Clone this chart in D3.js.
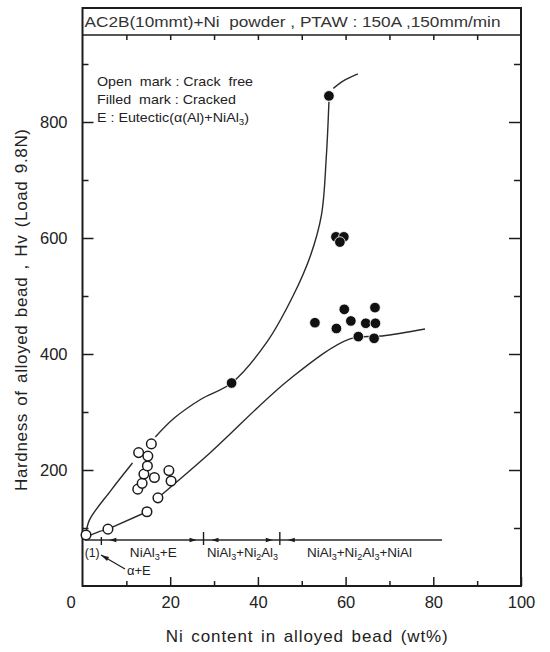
<!DOCTYPE html>
<html><head><meta charset="utf-8">
<script src="https://cdn.jsdelivr.net/npm/d3@7"></script>
<style>
body{margin:0;background:#fff}
svg{display:block;font-family:"Liberation Sans",Arial,Helvetica,sans-serif}
</style>
</head><body><svg id="c" width="550" height="652"></svg>
<script>
// ---------- data ----------
const titleText = "AC2B(10mmt)+Ni  powder , PTAW : 150A ,150mm/min";
const xLabel = "Ni content in alloyed bead (wt%)";
const yLabel = "Hardness of alloyed bead , Hv (Load 9.8N)";
const xTickLabels = [20, 40, 60, 80, 100];
const yTickLabels = [200, 400, 600, 800];
const xMinorTicks = [10, 30, 50, 70, 90];
const yMinorTicks = [100, 300, 500, 700, 900];

// open marks : crack free
const openNi = [0.8, 5.8, 14.7, 12.6, 13.6, 14.0, 14.8, 14.9, 12.8, 15.7, 16.4, 17.2, 19.7, 20.2];
const openHv = [88, 98, 128, 167, 177, 193, 207, 224, 230, 245, 187, 152, 199, 181];
// filled marks : cracked
const filledNi = [34.0, 56.2, 57.8, 59.6, 58.7, 53.0, 59.7, 66.7, 61.2, 57.9, 64.6, 66.8, 62.9, 66.5];
const filledHv = [350, 845, 602, 602, 593, 454, 477, 480, 457, 444, 453, 453, 430, 427];

// hand-drawn trend curves (segments)
const upperCurveA = [[0.8, 90], [1.6, 114], [6.5, 165], [11.4, 212]];
const upperCurveB = [[16.6, 257], [21, 290], [27, 322], [34, 350], [42, 420], [48, 500], [52, 570], [54.5, 640], [55.6, 740], [56.2, 835]];
const upperCurveC = [[57.2, 858], [59.5, 871], [62.8, 883]];
const lowerCurveA = [[1.5, 87], [3.5, 93], [5.8, 98]];
const lowerCurveB = [[5.8, 98], [14.7, 128]];
const lowerCurveC = [[17.2, 152], [29, 229], [47.3, 357], [61, 426], [68.3, 431], [78.1, 443]];

// phase regions
const phaseBounds = [4.3, 27.6, 45];
const phaseLineEnd = 82;
const phaseNames = ["(1)", "NiAl|3|+E", "NiAl|3|+Ni|2|Al|3", "NiAl|3|+Ni|2|Al|3|+NiAl"];
const phaseNameNi = [0.5, 10.8, 28.4, 51.2];
const subPhaseName = "α+E";

const legendLines = ["Open  mark : Crack  free", "Filled  mark : Cracked", "E : Eutectic(α(Al)+NiAl|3|)"];

// ---------- layout ----------
const svg = d3.select("#c");
const L = 82.5, R = 521, T = 35, B = 586, TT = 8;
const x = d3.scaleLinear().domain([0, 100]).range([L, R]);
const y = d3.scaleLinear().domain([0, 950]).range([B, T]);
const ink = "#1c1c1c";

// frame
svg.append("rect").attr("x", L).attr("y", TT).attr("width", R - L).attr("height", B - TT)
  .attr("fill", "none").attr("stroke", ink).attr("stroke-width", 2);
svg.append("line").attr("x1", L).attr("x2", R).attr("y1", T).attr("y2", T)
  .attr("stroke", ink).attr("stroke-width", 1.6);

// title
svg.append("text").attr("x", L + 2).attr("y", 27).attr("fill", "#333")
  .attr("font-size", 15.5).attr("xml:space", "preserve")
  .attr("textLength", 416).attr("lengthAdjust", "spacingAndGlyphs")
  .style("white-space", "pre").text(titleText);

function styleAxis(g) {
  g.select(".domain").remove();
  g.selectAll(".tick line").attr("stroke", ink).attr("stroke-width", 1.5);
  g.selectAll(".tick text").attr("fill", "#222").attr("font-size", 16.5)
    .attr("font-family", "\"Liberation Sans\",Arial,sans-serif");
}

// bottom axis
svg.append("g").attr("transform", `translate(0,${B})`)
  .call(d3.axisBottom(x).tickValues(xTickLabels).tickSize(-9).tickPadding(10))
  .call(styleAxis);
svg.append("g").attr("transform", `translate(0,${B})`)
  .call(d3.axisBottom(x).tickValues(xMinorTicks).tickSize(-5).tickFormat(""))
  .call(styleAxis);
svg.append("text").attr("x", 71).attr("y", 608).attr("text-anchor", "middle")
  .attr("fill", "#222").attr("font-size", 16.5).text("0");
// top ticks
svg.append("g").attr("transform", `translate(0,${T})`)
  .call(d3.axisTop(x).tickValues(d3.merge([xTickLabels, xMinorTicks]).filter(v => v < 100)).tickSize(-5).tickFormat(""))
  .call(styleAxis);

// left axis
svg.append("g").attr("transform", `translate(${L},0)`)
  .call(d3.axisLeft(y).tickValues(yTickLabels).tickSize(-11).tickPadding(15))
  .call(styleAxis);
svg.append("g").attr("transform", `translate(${L},0)`)
  .call(d3.axisLeft(y).tickValues(yMinorTicks).tickSize(-6).tickFormat(""))
  .call(styleAxis);
// right axis
svg.append("g").attr("transform", `translate(${R},0)`)
  .call(d3.axisRight(y).tickValues(yTickLabels).tickSize(-12).tickFormat(""))
  .call(styleAxis);
svg.append("g").attr("transform", `translate(${R},0)`)
  .call(d3.axisRight(y).tickValues(yMinorTicks).tickSize(-7).tickFormat(""))
  .call(styleAxis);

// axis titles
svg.append("text").attr("x", (L + R) / 2 + 5).attr("y", 642).attr("text-anchor", "middle")
  .attr("fill", "#222").attr("font-size", 17).attr("word-spacing", 2)
  .attr("textLength", 282).attr("lengthAdjust", "spacing").text(xLabel);
svg.append("text").attr("transform", "translate(27,310) rotate(-90)").attr("text-anchor", "middle")
  .attr("fill", "#222").attr("font-size", 17).attr("word-spacing", 2)
  .attr("textLength", 362).attr("lengthAdjust", "spacing").text(yLabel);

// rich text helper: segments separated by "|" alternate normal/subscript
function rich(sel, str, size) {
  const parts = str.split("|");
  parts.forEach((p, i) => {
    if (!p) return;
    const sub = i % 2 === 1;
    sel.append("tspan").attr("font-size", sub ? size * 0.68 : size)
      .attr("dy", sub ? size * 0.2 : (i > 0 ? -size * 0.2 : 0))
      .text(p);
  });
}

// legend
const legendWidths = [156, 139, 152];
legendLines.forEach((t, i) => {
  const tx = svg.append("text").attr("x", 97).attr("y", 86 + i * 18).attr("fill", "#222")
    .attr("xml:space", "preserve").style("white-space", "pre")
    .attr("textLength", legendWidths[i]).attr("lengthAdjust", "spacingAndGlyphs");
  rich(tx, t, 13.5);
});

// curves
const line = d3.line().x(d => x(d[0])).y(d => y(d[1])).curve(d3.curveCatmullRom.alpha(0.5));
[upperCurveA, upperCurveB, upperCurveC, lowerCurveA, lowerCurveB, lowerCurveC].forEach(seg => {
  svg.append("path").attr("d", line(seg)).attr("fill", "none")
    .attr("stroke", "#2a2a2a").attr("stroke-width", 1.4);
});

// points
const openPts = openNi.map((v, i) => [v, openHv[i]]);
const filledPts = filledNi.map((v, i) => [v, filledHv[i]]);
svg.append("g").selectAll("circle").data(openPts).join("circle")
  .attr("cx", d => x(d[0])).attr("cy", d => y(d[1])).attr("r", 4.8)
  .attr("fill", "#fff").attr("stroke", ink).attr("stroke-width", 1.5);
svg.append("g").selectAll("circle").data(filledPts).join("circle")
  .attr("cx", d => x(d[0])).attr("cy", d => y(d[1])).attr("r", 5.3)
  .attr("fill", "#111").attr("stroke", "#fff").attr("stroke-width", 0.8);

// phase annotation
const py = 540;
svg.append("line").attr("x1", x(0.5)).attr("x2", x(phaseLineEnd)).attr("y1", py).attr("y2", py)
  .attr("stroke", "#2a2a2a").attr("stroke-width", 1.3);
phaseBounds.forEach((b, i) => {
  const bx = x(b);
  svg.append("line").attr("x1", bx).attr("x2", bx)
    .attr("y1", i === 0 ? py - 3 : py - 8).attr("y2", py + 5)
    .attr("stroke", ink).attr("stroke-width", 1.4);
});
function arrowHead(tipX, dir) {
  const l = 7, w = 2.3;
  svg.append("path")
    .attr("d", `M${tipX},${py} L${tipX - dir * l},${py - w} L${tipX - dir * l},${py + w} Z`)
    .attr("fill", ink);
}
arrowHead(x(phaseBounds[0]) + 8, -1);
phaseBounds.slice(1).forEach(b => {
  arrowHead(x(b) - 7, 1);
  arrowHead(x(b) + 8, -1);
});
const phaseWidths = [15, 47, 71, 105];
phaseNames.forEach((n, i) => {
  const tx = svg.append("text").attr("x", x(phaseNameNi[i])).attr("y", 557).attr("fill", "#222")
    .attr("textLength", phaseWidths[i]).attr("lengthAdjust", "spacingAndGlyphs");
  rich(tx, n, 13);
});
// alpha+E leader
svg.append("line").attr("x1", 101).attr("y1", 555).attr("x2", 125).attr("y2", 569)
  .attr("stroke", ink).attr("stroke-width", 1.2);
svg.append("path").attr("d", "M101,555 L109,557 L107,561 Z").attr("fill", ink);
svg.append("text").attr("x", 127).attr("y", 575).attr("fill", "#222").attr("font-size", 13).text(subPhaseName);
</script>
</body></html>
